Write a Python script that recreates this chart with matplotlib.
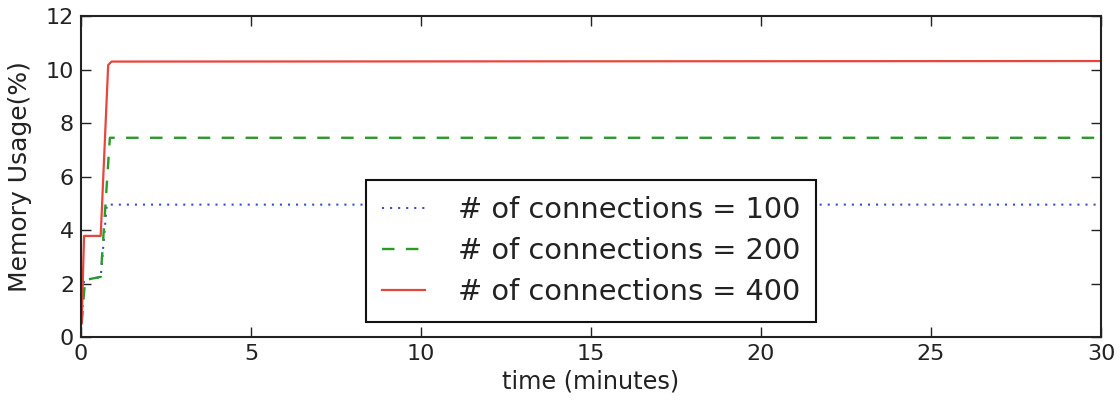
import matplotlib
matplotlib.use("Agg")
import matplotlib.pyplot as plt

plt.rcParams['font.family'] = ['DejaVu Sans']
plt.rcParams['lines.scale_dashes'] = False

# data (minutes, memory usage %)
t_100 = [0.02, 0.09, 0.58, 0.76, 30.0]
m_100 = [0.51, 2.13, 2.24, 4.95, 4.95]
t_200 = [0.02, 0.12, 0.58, 0.85, 30.0]
m_200 = [0.51, 2.13, 2.25, 7.45, 7.45]
t_400 = [0.02, 0.09, 0.58, 0.80, 0.90, 30.0]
m_400 = [0.51, 3.78, 3.78, 10.17, 10.30, 10.32]
labels = ['# of connections = 100', '# of connections = 200', '# of connections = 400']
xticks = [0, 5, 10, 15, 20, 25, 30]
yticks = [0, 2, 4, 6, 8, 10, 12]

fig = plt.figure(figsize=(11.2, 4.03), dpi=100)
ax = fig.add_axes([0.0723, 0.1638, 0.9107, 0.7962])

ax.plot(t_100, m_100, color='#3a4fc8', lw=1.5, dashes=(1.5, 4.3), label=labels[0])
ax.plot(t_200, m_200, color='#2a9a2a', lw=1.7, dashes=(9, 8.2), label=labels[1])
ax.plot(t_400, m_400, color='#e8453c', lw=1.6, label=labels[2])

ax.set_xlim(0, 30)
ax.set_ylim(0, 12)
ax.set_xticks(xticks)
ax.set_yticks(yticks)
ax.tick_params(direction='in', length=7, width=1, top=True, right=True,
               labelsize=16, pad=5, colors='#222222')
for s in ax.spines.values():
    s.set_linewidth(1.5)
    s.set_color('#222222')

ax.set_xlabel('time (minutes)', fontsize=17.3, color='#222222', labelpad=4)
ax.set_ylabel('Memory Usage(%)', fontsize=18, color='#222222', labelpad=10)

leg = ax.legend(loc='lower center', bbox_to_anchor=(0.5, 0.047), fontsize=20.8,
                frameon=True, fancybox=False, framealpha=1, edgecolor='#111111',
                handlelength=1.5, handletextpad=1.15, labelspacing=0.45,
                borderpad=0.55, borderaxespad=0)
leg.get_frame().set_linewidth(1.5)
for txt in leg.get_texts():
    txt.set_color('#222222')

fig.savefig('out.png', dpi=100)
